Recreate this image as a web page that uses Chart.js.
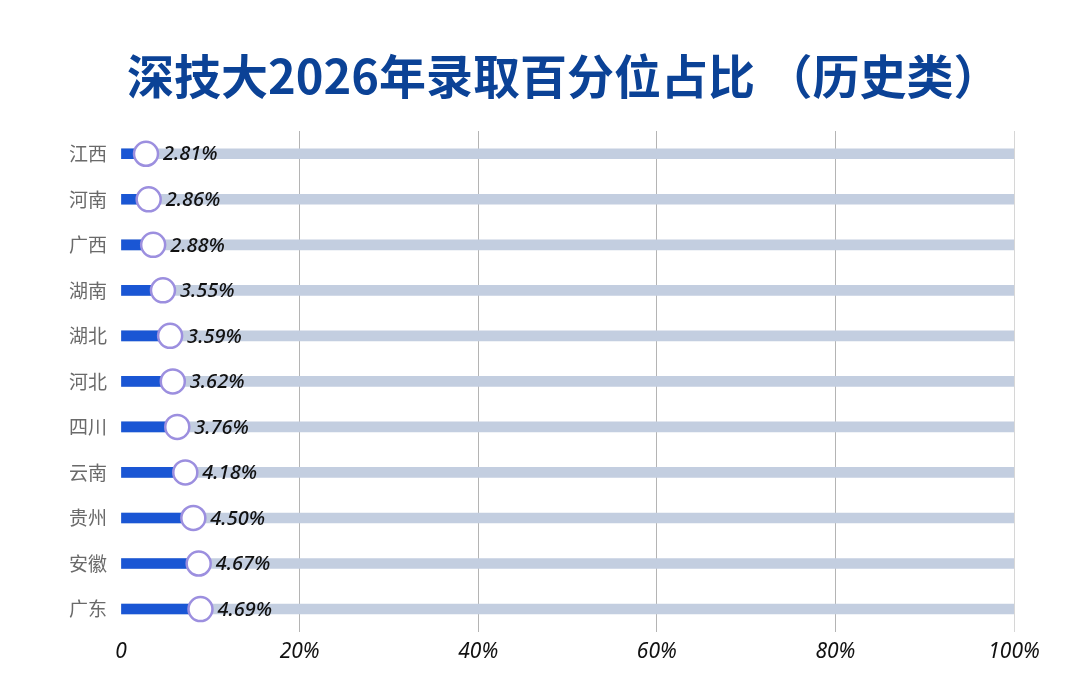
<!DOCTYPE html>
<html>
<head>
<meta charset="utf-8">
<script src="https://cdn.jsdelivr.net/npm/chart.js@4"></script>
<style>
  html, body { margin: 0; padding: 0; background: #fff; }
  #wrap { width: 1080px; height: 695px; }
</style>
</head>
<body>
<div id="wrap"><canvas id="chart" width="1080" height="695"></canvas></div>
<script>
// provinces, top to bottom
const provinces = ['江西', '河南', '广西', '湖南', '湖北', '河北', '四川', '云南', '贵州', '安徽', '广东'];
// text printed next to each marker
const shareLabels = ['2.81%', '2.86%', '2.88%', '3.55%', '3.59%', '3.62%', '3.76%', '4.18%', '4.50%', '4.67%', '4.69%'];
// where each marker sits on the 0-100 axis
const markerPos = [2.8, 3.1, 3.6, 4.7, 5.5, 5.8, 6.3, 7.2, 8.1, 8.7, 8.9];
// full track behind each bar
const trackMax = [100, 100, 100, 100, 100, 100, 100, 100, 100, 100, 100];
const xTicks = [0, 20, 40, 60, 80, 100];
const titleText = '深技大2026年录取百分位占比 （历史类）';

const CJK = '"Noto Sans CJK SC", "Noto Sans", sans-serif';

// title sits a bit right of the canvas centre, so it is drawn by hand
const titleDraw = {
    id: 'titleDraw',
    afterDraw(chart) {
        const ctx = chart.ctx;
        ctx.save();
        ctx.font = 'bold 47px ' + CJK;
        ctx.fillStyle = '#0b4296';
        ctx.textAlign = 'left';
        ctx.textBaseline = 'middle';
        ctx.fillText(titleText, 127, 76);
        ctx.restore();
    }
};

// draws the percentage text to the right of each marker
const valueLabels = {
    id: 'valueLabels',
    afterDatasetsDraw(chart) {
        const ctx = chart.ctx;
        const xs = chart.scales.x;
        const ys = chart.scales.y;
        ctx.save();
        ctx.font = 'italic 500 20px "Noto Sans", sans-serif';
        ctx.fillStyle = '#111';
        ctx.textAlign = 'left';
        ctx.textBaseline = 'middle';
        shareLabels.forEach((txt, i) => {
            ctx.fillText(txt, xs.getPixelForValue(markerPos[i]) + 17, ys.getPixelForValue(i) + 1);
        });
        ctx.restore();
    }
};

new Chart(document.getElementById('chart'), {
    type: 'bar',
    data: {
        labels: provinces,
        datasets: [
            {
                type: 'line',
                label: 'marker',
                data: markerPos,
                indexAxis: 'y',
                showLine: false,
                pointRadius: 12,
                pointHoverRadius: 12,
                pointBackgroundColor: '#ffffff',
                pointBorderColor: '#9c8fdf',
                pointBorderWidth: 2.5,
                order: 0
            },
            {
                label: 'share',
                data: markerPos,
                backgroundColor: '#1a56d4',
                barThickness: 10,
                grouped: false,
                order: 1
            },
            {
                label: 'track',
                data: trackMax,
                backgroundColor: '#c3cee0',
                barThickness: 10,
                grouped: false,
                order: 2
            }
        ]
    },
    options: {
        indexAxis: 'y',
        responsive: false,
        animation: false,
        layout: { padding: { left: 55, right: 66, top: 131, bottom: 22 } },
        plugins: {
            legend: { display: false },
            tooltip: { enabled: false },
            title: { display: false }
        },
        scales: {
            x: {
                min: 0,
                max: 100,
                afterBuildTicks(scale) {
                    scale.ticks = xTicks.map(v => ({ value: v }));
                },
                grid: {
                    color: ctx => (ctx.tick && ctx.tick.value === 0 ? 'rgba(0,0,0,0)' :
                        ctx.tick && ctx.tick.value === 100 ? '#d6d6d6' : '#b4b4b4'),
                    lineWidth: 1,
                    drawTicks: false
                },
                border: { display: false },
                ticks: {
                    padding: 8,
                    color: '#111',
                    font: { family: '"Noto Sans", sans-serif', size: 21, style: 'italic' },
                    callback: v => (v === 0 ? '0' : v + '%')
                }
            },
            y: {
                grid: { display: false, drawTicks: false },
                border: { display: false },
                ticks: {
                    padding: 14,
                    color: '#6a6a6a',
                    font: { family: CJK, size: 19 }
                }
            }
        }
    },
    plugins: [valueLabels, titleDraw]
});
</script>
</body>
</html>
